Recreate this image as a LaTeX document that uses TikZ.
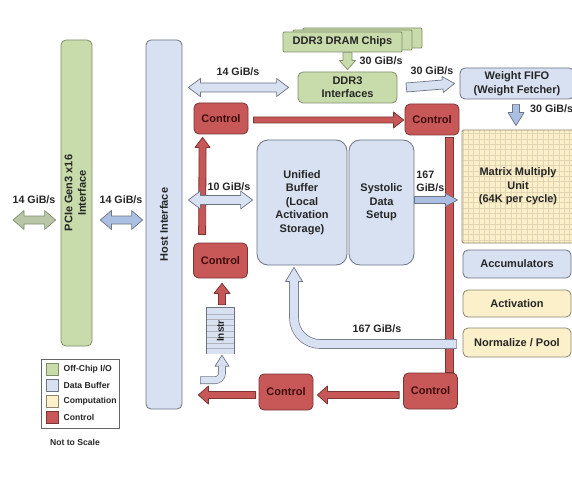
\documentclass[tikz,border=0pt]{standalone}
\usepackage{fontspec}
\setmainfont{Liberation Sans}
\usepackage{graphicx}
\usetikzlibrary{calc}

\definecolor{iofill}{HTML}{C8DBAA}
\definecolor{ioedge}{HTML}{7F8F6C}
\definecolor{buffill}{HTML}{D7E1F1}
\definecolor{bufedge}{HTML}{6E7481}
\definecolor{compfill}{HTML}{FBF0C9}
\definecolor{compedge}{HTML}{8C8671}
\definecolor{ctlfill}{HTML}{C85858}
\definecolor{ctledge}{HTML}{7A3535}
\definecolor{ctltext}{HTML}{3E0C0C}
\definecolor{midblue}{HTML}{AABFE2}
\definecolor{pciearr}{HTML}{B9C6A8}
\definecolor{gridline}{HTML}{E2D5B2}

\tikzset{
  arrw/.store in=\arrw, arrh/.store in=\arrh, arrl/.store in=\arrl,
  arrw=4.5pt, arrh=9pt, arrl=12pt,
  fat/.style={to path={let \p1=(\tikztostart), \p2=(\tikztotarget),
      \n1={atan2(\y2-\y1,\x2-\x1)}, \n2={veclen(\x2-\x1,\y2-\y1)} in
      ($(\p1)+({\n1+90}:\arrw)$) -- ($(\p1)+(\n1:{\n2-\arrl})+({\n1+90}:\arrw)$)
      -- ($(\p1)+(\n1:{\n2-\arrl})+({\n1+90}:\arrh)$) -- (\p2)
      -- ($(\p1)+(\n1:{\n2-\arrl})+({\n1-90}:\arrh)$) -- ($(\p1)+(\n1:{\n2-\arrl})+({\n1-90}:\arrw)$)
      -- ($(\p1)+({\n1-90}:\arrw)$) -- cycle}},
  fatd/.style={to path={let \p1=(\tikztostart), \p2=(\tikztotarget),
      \n1={atan2(\y2-\y1,\x2-\x1)}, \n2={veclen(\x2-\x1,\y2-\y1)} in
      ($(\p1)+(\n1:\arrl)+({\n1+90}:\arrw)$) -- ($(\p1)+(\n1:{\n2-\arrl})+({\n1+90}:\arrw)$)
      -- ($(\p1)+(\n1:{\n2-\arrl})+({\n1+90}:\arrh)$) -- (\p2)
      -- ($(\p1)+(\n1:{\n2-\arrl})+({\n1-90}:\arrh)$) -- ($(\p1)+(\n1:{\n2-\arrl})+({\n1-90}:\arrw)$)
      -- ($(\p1)+(\n1:\arrl)+({\n1-90}:\arrw)$) -- ($(\p1)+(\n1:\arrl)+({\n1-90}:\arrh)$)
      -- (\p1) -- ($(\p1)+(\n1:\arrl)+({\n1+90}:\arrh)$) -- cycle}},
  box/.style={draw, rounded corners=5pt, line width=0.8pt, align=center, inner sep=0pt,
      font=\fontsize{11}{13.4}\selectfont\bfseries, text=black!85},
  io/.style={box, fill=iofill, draw=ioedge},
  buf/.style={box, fill=buffill, draw=bufedge},
  comp/.style={box, fill=compfill, draw=compedge},
  ctl/.style={box, fill=ctlfill, draw=ctledge, text=ctltext, minimum width=54pt, minimum height=31pt},
  chip/.style={io, rounded corners=1pt, minimum width=119pt, minimum height=20pt},
  instrbox/.style={fill=buffill, minimum width=27pt, minimum height=46pt, inner sep=0pt,
      font=\fontsize{10}{12}\selectfont\bfseries, text=black!85,
      path picture={\foreach \k in {1,...,7}
        \draw[bufedge!55, line width=0.5pt] ($(path picture bounding box.north west)+(0,\k*5.8)$) -- ++(30,0);}},
  lbl/.style={font=\fontsize{10.7}{12.5}\selectfont\bfseries, text=black!85, inner sep=0pt},
  legtext/.style={font=\fontsize{8.6}{10}\selectfont\bfseries, text=black!85, inner sep=0pt},
  swatch/.style={minimum width=12pt, minimum height=12pt, inner sep=0pt, line width=0.8pt},
  redarr/.style={fat, fill=ctlfill, draw=ctledge, line width=0.8pt, line join=round},
  bluearr/.style={fill=buffill, draw=bufedge, line width=0.7pt, line join=round},
}

\begin{document}
\begin{tikzpicture}[x=1pt, y=-1pt]
\fill[white] (0,0) rectangle (572,497);
\useasboundingbox (0,0) rectangle (572,497);

% off-chip side
\node[io, minimum width=31pt, minimum height=306pt] (pcie) at (76.5,193)
  {\rotatebox{90}{\begin{tabular}{@{}c@{}}PCIe Gen3 x16\\Interface\end{tabular}}};
\node[buf, minimum width=36pt, minimum height=369pt] (host) at (164,224.5) {\rotatebox{90}{Host Interface}};

% memory
\node[chip] (chipC) at (362.5,38) {};
\node[chip] (chipB) at (352.5,40) {};
\node[chip] (chipA) at (342.5,42) {DDR3 DRAM Chips};
\node[io, minimum width=99pt, minimum height=31pt] (ddr) at (347.5,87.5) {DDR3\\Interfaces};
\node[buf, minimum width=114pt, minimum height=31pt] (fifo) at (517,83.5) {Weight FIFO\\(Weight Fetcher)};

% compute
\node[comp, rounded corners=1.5pt, minimum width=112pt, minimum height=113pt,
  path picture={\draw[gridline, line width=0.5pt, step=5.33pt] (path picture bounding box.north west) grid (path picture bounding box.south east);}]
  (mmu) at (518,186.5) {Matrix Multiply\\Unit\\(64K per cycle)};
\node[buf, minimum width=108pt, minimum height=28pt] (acc) at (517,264) {Accumulators};
\node[comp, minimum width=108pt, minimum height=27pt] (act) at (517,303.5) {Activation};
\node[comp, minimum width=108pt, minimum height=29pt] (norm) at (517,342.5) {Normalize / Pool};

\node[buf, rounded corners=11pt, minimum width=90pt, minimum height=125pt] (ub) at (302,202.5)
  {Unified\\Buffer\\(Local\\Activation\\Storage)};
\node[buf, rounded corners=11pt, minimum width=65pt, minimum height=125pt] (sds) at (381.5,202.5)
  {Systolic\\Data\\Setup};

% control
\node[ctl] (ctlA) at (221,118.5) {Control};
\node[ctl, minimum height=35pt] (ctlB) at (220.5,260.5) {Control};
\node[ctl] (ctlC) at (432,119.5) {Control};
\node[ctl, minimum height=36pt] (ctlD) at (430.5,391) {Control};
\node[ctl, minimum height=36pt] (ctlE) at (286,392) {Control};

\node[instrbox] (instr) at (220.5,331) {\rotatebox{90}{Instr}};
\draw[bufedge, line width=0.7pt] (instr.south west) -- (instr.north west) -- (instr.north east) -- (instr.south east);

% control flow
\draw[redarr, arrw=3.5pt, arrh=7.5pt, arrl=10pt] ($(ctlB.north west)+(9,-8)$) to ($(ctlA.south west)+(9,3)$);
\draw[redarr, arrw=3pt, arrh=8pt, arrl=10pt] ($(ctlA.east)+(5,1.5)$) to ($(ctlC.west |- ctlA.east)+(-1,1.5)$);
\draw[fill=ctlfill, draw=ctledge, line width=0.8pt] ($(ctlC.south east)+(-14,2)$) rectangle ($(ctlD.north east)+(-5,0)$);
\draw[redarr, arrw=3.5pt, arrh=9pt, arrl=10pt] ($(ctlD.west)+(-4,4)$) to ($(ctlE.east |- ctlD.west)+(4,4)$);
\draw[redarr, arrw=3.5pt, arrh=9pt, arrl=10pt] ($(ctlE.west)+(-3,3)$) to ($(host.east |- ctlE.west)+(16,3)$);
\draw[redarr, arrw=3.5pt, arrh=8pt, arrl=10pt] ($(instr.north)+(1.5,-3)$) to ($(ctlB.south)+(1.5,5)$);

% data flow
\coordinate (pcin) at (13,220);
\draw[fatd, arrw=4pt, arrh=9.5pt, arrl=11pt, fill=pciearr, draw=ioedge, line width=0.7pt, line join=round]
  (pcin) to ($(pcie.west |- pcin)+(-5,0)$);
\draw[fatd, arrw=4pt, arrh=9.5pt, arrl=11pt, fill=midblue, draw=bufedge, line width=0.7pt, line join=round]
  ($(pcie.east |- pcin)+(8,0)$) to ($(host.west |- pcin)+(-3,0)$);
\draw[fatd, bluearr] ($(host.east |- ddr.west)+(6,0)$) to ($(ddr.west)+(-9,0)$);
\draw[fatd, bluearr] ($(host.east |- ub.west)+(6,-2.5)$) to ($(ub.west)+(-4,-2.5)$);
\draw[fat, arrw=4.5pt, arrh=8pt, arrl=9pt, fill=iofill, draw=ioedge, line width=0.7pt, line join=round]
  (chipA.south -| ddr.north) to ($(ddr.north)+(0,-2)$);
\draw[fat, bluearr, arrh=8pt] ($(ddr.east)+(9,0)$) to ($(fifo.west)+(-5,0)$);
\draw[fat, bluearr, fill=midblue, arrw=3.5pt, arrh=8pt, arrl=13pt] ($(fifo.south)+(-1,5)$) to ($(fifo.south |- mmu.north)+(-1,-4)$);
\draw[fat, bluearr, fill=midblue, arrw=3.5pt, arrh=6.5pt, arrl=12pt] ($(sds.east)+(0,-2.5)$) to ($(mmu.west |- sds.east)+(-4,-2.5)$);

% return path
\draw[bufedge, line width=9.6pt, rounded corners=26pt] ($(norm.west)+(-6,1.5)$) -| ($(ub.south)+(-8,16)$);
\draw[bluearr] ($(ub.south)+(-16.5,16)$) -- ($(ub.south)+(-8,2)$) -- ($(ub.south)+(0.5,16)$) -- cycle;
\draw[buffill, line width=8.2pt, rounded corners=26pt] ($(norm.west)+(-6.7,1.5)$) -| ($(ub.south)+(-8,15.4)$);

\draw[bufedge, line width=7.6pt, rounded corners=7pt] ($(instr.south)+(-20.5,26)$) -| ($(instr.south)+(1.5,12)$);
\draw[bluearr] ($(instr.south)+(-5.5,12)$) -- ($(instr.south)+(1.5,1)$) -- ($(instr.south)+(8.5,12)$) -- cycle;
\draw[buffill, line width=6.2pt, rounded corners=7pt] ($(instr.south)+(-19.8,26)$) -| ($(instr.south)+(1.5,11.4)$);

% bandwidth labels
\node[lbl] (bwA) at (34,200) {14 GiB/s};
\node[lbl] (bwB) at (121,200) {14 GiB/s};
\node[lbl] (bwC) at (238,72) {14 GiB/s};
\node[lbl] (bwD) at (229,187) {10 GiB/s};
\node[lbl, anchor=west] (bwE) at ($(ddr.north)+(12,-11)$) {30 GiB/s};
\node[lbl] (bwF) at (432,71) {30 GiB/s};
\node[lbl, anchor=west] (bwG) at ($(fifo.south)+(13,9)$) {30 GiB/s};
\node[lbl, align=left] (bwH) at ($(sds.east)+(16,-21)$) {167\\GiB/s};
\node[lbl] (bwI) at (377,329) {167 GiB/s};

% legend
\node[draw=black!60, line width=0.8pt, minimum width=78pt, minimum height=69pt] (legend) at (80,393.5) {};
\foreach \f/\e/\t [count=\i] in {iofill/ioedge/{Off-Chip I/O}, buffill/bufedge/{Data Buffer},
    compfill/compedge/{Computation}, ctlfill/ctledge/{Control}} {
  \node[swatch, fill=\f, draw=\e] (sw\i) at (52,353+\i*16) {};
  \node[legtext, anchor=west] (lg\i) at ($(sw\i.east)+(5,0)$) {\t};
}
\node[legtext] (scale) at ($(legend.south)+(-5,14)$) {Not to Scale};
\end{tikzpicture}
\end{document}
